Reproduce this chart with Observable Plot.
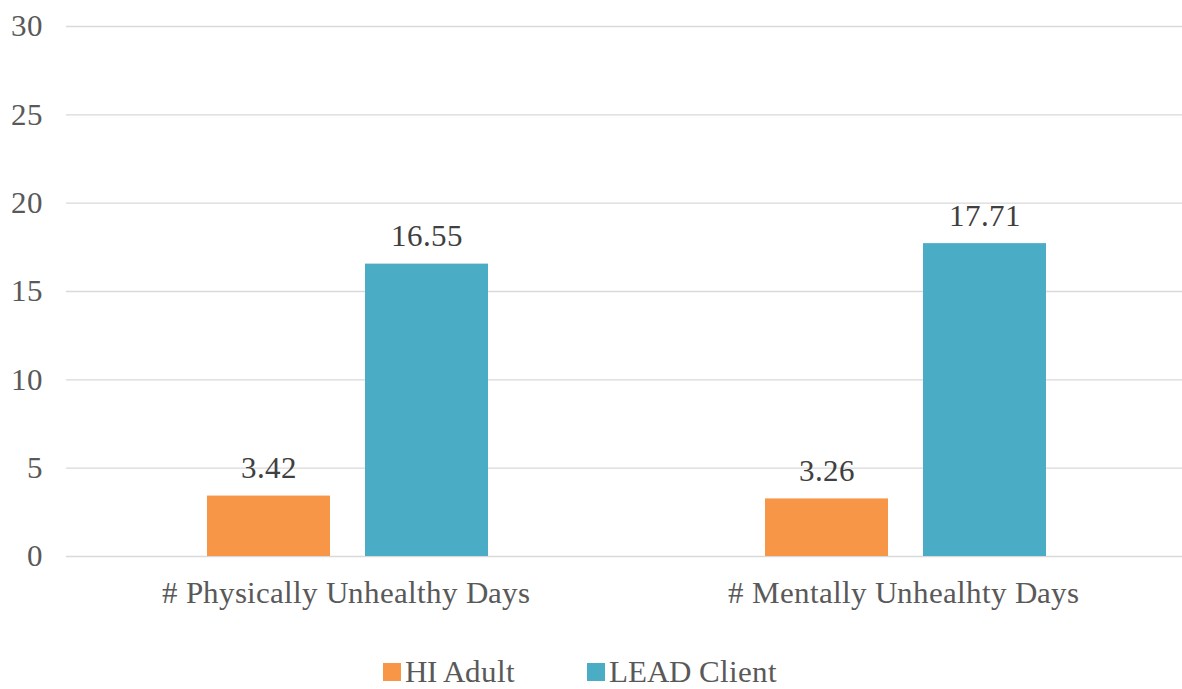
<!DOCTYPE html>
<html lang="en">
<head>
<meta charset="utf-8">
<script src="https://cdn.jsdelivr.net/npm/d3@7"></script>
<script src="https://cdn.jsdelivr.net/npm/@observablehq/plot@0.6"></script>
<style>
  @font-face {
    font-family: "ChartSerif";
    src: local("Liberation Serif"), local("LiberationSerif"), local("LiberationSerif-Regular");
  }
</style>
</head>
<body style="margin: 0; overflow: hidden; font-family: ChartSerif, 'Liberation Serif', serif;">
<div id="chart"></div>
<script>
// Average unhealthy days per month, by group
const categories = ["# Physically Unhealthy Days", "# Mentally Unhealhty Days"];
const series = ["HI Adult", "LEAD Client"];
const hiAdult = [3.42, 3.26];
const leadClient = [16.55, 17.71];
const yTicks = [0, 5, 10, 15, 20, 25, 30];
const colors = ["#F79646", "#4BACC6"];

const rows = [];
categories.forEach((c, i) => {
  rows.push({category: c, series: series[0], value: hiAdult[i]});
  rows.push({category: c, series: series[1], value: leadClient[i]});
});

const font = "ChartSerif, 'Liberation Serif', serif";
const fmt = d3.format(".2f");

const chart = Plot.plot({
  width: 1182,
  height: 620,
  marginTop: 26,
  marginBottom: 64,
  marginLeft: 66,
  marginRight: 0,
  style: {fontFamily: font, fontSize: "31px", color: "#595959"},
  fx: {domain: categories, padding: 0, label: null},
  x: {domain: series, paddingInner: 0.22, paddingOuter: 0.87, align: 0.51, axis: null},
  y: {domain: [0, 30], ticks: yTicks, label: null},
  color: {domain: series, range: colors},
  marks: [
    Plot.gridY(yTicks, {stroke: "#d9d9d9", strokeOpacity: 1, strokeWidth: 1.4}),
    Plot.axisY(yTicks, {tickSize: 0, tickPadding: 24, label: null, fill: "#595959"}),
    Plot.axisFx({anchor: "bottom", tickSize: 0, tickPadding: 24, label: null, fill: "#595959"}),
    Plot.barY(rows, {fx: "category", x: "series", y: "value", fill: "series"}),
    Plot.text(rows, {
      fx: "category", x: "series", y: "value",
      text: d => fmt(d.value),
      lineAnchor: "bottom", dy: -18, fill: "#404040"
    })
  ]
});
document.getElementById("chart").appendChild(chart);

// Legend below the chart
const legend = d3.select("body").append("div")
  .style("display", "flex").style("justify-content", "center").style("align-items", "center")
  .style("font-family", font).style("font-size", "31px").style("color", "#595959")
  .style("height", "36px").style("margin-top", "34px").style("margin-left", "-22px");
series.forEach((s, i) => {
  const item = legend.append("div").style("display", "flex").style("align-items", "center")
    .style("margin", "0 36px");
  item.append("div").style("width", "18px").style("height", "18px")
    .style("margin-right", "4px").style("background", colors[i]);
  item.append("span").text(s);
});
</script>
</body>
</html>
